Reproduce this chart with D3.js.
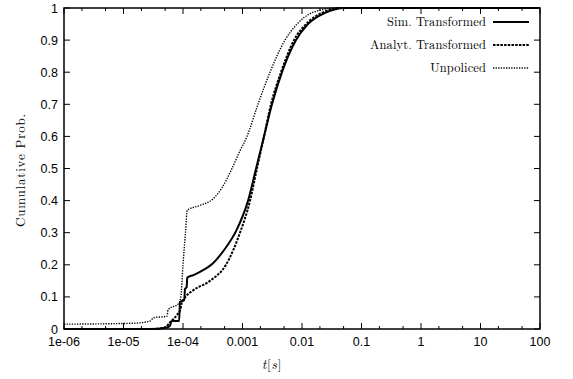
<!DOCTYPE html>
<html>
<head>
<meta charset="utf-8">
<script src="https://cdn.jsdelivr.net/npm/d3@7"></script>
<style>
  html, body { margin: 0; padding: 0; background: #fff; overflow: hidden; }
  svg { display: block; }
  .tick-text { font-family: "Liberation Sans", Arial, sans-serif; font-size: 12.5px; fill: #000; }
  .serif { font-family: "Latin Modern Roman", "CMU Serif", "Liberation Serif", "Times New Roman", serif; fill: #000; }
</style>
</head>
<body>
<svg id="chart" width="573" height="379"></svg>
<script>
// ── CDF data ───────────────────────────────────────────────────────────────
const seriesNames = ["Sim. Transformed", "Analyt. Transformed", "Unpoliced"];

const simT = [1e-6, 2.8e-5, 5.4e-5, 6e-5, 6.5e-5, 8.6e-5, 8.9e-5, 1.05e-4, 1.08e-4, 1.15e-4, 1.18e-4,
  1.5e-4, 1.93e-4, 3.19e-4, 5.08e-4, 7.78e-4, 1.24e-3, 1.69e-3, 2.3e-3, 3.13e-3, 4.61e-3,
  7.93e-3, 1.26e-2, 2.44e-2, 5.28e-2, 100];
const simP = [0, 0, 0.005, 0.01, 0.025, 0.025, 0.085, 0.09, 0.125, 0.13, 0.16,
  0.168, 0.178, 0.205, 0.25, 0.305, 0.4, 0.5, 0.6, 0.7, 0.8,
  0.9, 0.95, 0.985, 1, 1];

const anaT = [1e-6, 3e-5, 5e-5, 6e-5, 8e-5, 9e-5, 9.5e-5, 1.1e-4, 1.47e-4, 2.84e-4, 5.28e-4,
  9.08e-4, 1.34e-3, 1.75e-3, 2.3e-3, 3.01e-3, 4.44e-3, 7.34e-3, 1.17e-2, 2.17e-2, 4.35e-2, 100];
const anaP = [0, 0, 0.005, 0.02, 0.045, 0.06, 0.08, 0.1, 0.12, 0.15, 0.2,
  0.3, 0.4, 0.5, 0.6, 0.7, 0.8, 0.9, 0.95, 0.985, 1, 1];

const unpT = [1e-6, 1.5e-5, 2.8e-5, 3.2e-5, 5.4e-5, 5.6e-5, 8.5e-5, 9.2e-5, 1e-4, 1.1e-4, 1.18e-4,
  1.93e-4, 3.19e-4, 4.52e-4, 6.66e-4, 9.08e-4, 1.19e-3, 1.82e-3, 2.9e-3, 5.18e-3, 8.24e-3,
  1.47e-2, 3.6e-2, 100];
const unpP = [0.015, 0.018, 0.025, 0.035, 0.04, 0.06, 0.08, 0.1, 0.2, 0.3, 0.37,
  0.385, 0.405, 0.44, 0.5, 0.555, 0.6, 0.7, 0.8, 0.9, 0.95,
  0.985, 1, 1];

const xTickVals = [1e-6, 1e-5, 1e-4, 1e-3, 1e-2, 1e-1, 1, 10, 100];
const xTickLabels = ["1e-06", "1e-05", "1e-04", "0.001", "0.01", "0.1", "1", "10", "100"];
const yTickVals = [0, 0.1, 0.2, 0.3, 0.4, 0.5, 0.6, 0.7, 0.8, 0.9, 1];
const yTickLabels = ["0", "0.1", "0.2", "0.3", "0.4", "0.5", "0.6", "0.7", "0.8", "0.9", "1"];

// ── layout ─────────────────────────────────────────────────────────────────
const svg = d3.select("#chart");
const margin = { top: 8, right: 33, bottom: 50, left: 64 };
const innerWidth = 573 - margin.left - margin.right;
const innerHeight = 379 - margin.top - margin.bottom;

const xScale = d3.scaleLog().domain([1e-6, 100]).range([0, innerWidth]);
const yScale = d3.scaleLinear().domain([0, 1]).range([innerHeight, 0]);

const group = svg.append("g").attr("transform", `translate(${margin.left},${margin.top})`);

// minor ticks at 2 and 5 of each decade
const minorX = [];
xTickVals.slice(0, -1).forEach((v) => { minorX.push(v * 2, v * 5); });

const tickGroup = group.append("g").attr("stroke", "#000").attr("stroke-width", 1);
xTickVals.forEach((v) => {
  const x = xScale(v);
  tickGroup.append("line").attr("x1", x).attr("x2", x).attr("y1", innerHeight).attr("y2", innerHeight - 6);
  tickGroup.append("line").attr("x1", x).attr("x2", x).attr("y1", 0).attr("y2", 6);
});
minorX.forEach((v) => {
  const x = xScale(v);
  tickGroup.append("line").attr("x1", x).attr("x2", x).attr("y1", innerHeight).attr("y2", innerHeight - 3);
  tickGroup.append("line").attr("x1", x).attr("x2", x).attr("y1", 0).attr("y2", 3);
});
yTickVals.forEach((v) => {
  const y = yScale(v);
  tickGroup.append("line").attr("x1", 0).attr("x2", 6).attr("y1", y).attr("y2", y);
  tickGroup.append("line").attr("x1", innerWidth).attr("x2", innerWidth - 6).attr("y1", y).attr("y2", y);
});

// tick labels
group.append("g").selectAll("text").data(xTickVals).join("text")
  .attr("class", "tick-text")
  .attr("x", (d) => xScale(d))
  .attr("y", innerHeight + 17)
  .attr("text-anchor", "middle")
  .text((d, i) => xTickLabels[i]);
group.append("g").selectAll("text").data(yTickVals).join("text")
  .attr("class", "tick-text")
  .attr("x", -6)
  .attr("y", (d) => yScale(d) + 4.5)
  .attr("text-anchor", "end")
  .text((d, i) => yTickLabels[i]);

// axis labels
svg.append("text")
  .attr("class", "serif")
  .attr("font-size", 13)
  .attr("letter-spacing", 0.8)
  .attr("transform", "translate(25,170) rotate(-90)")
  .attr("text-anchor", "middle")
  .text("Cumulative Prob.");
const xl = svg.append("text")
  .attr("class", "serif")
  .attr("font-size", 13)
  .attr("letter-spacing", 0.8)
  .attr("x", 272)
  .attr("y", 369)
  .attr("text-anchor", "middle");
xl.append("tspan").attr("font-style", "italic").text("t");
xl.append("tspan").text("[");
xl.append("tspan").attr("font-style", "italic").text("s");
xl.append("tspan").text("]");

// ── series ─────────────────────────────────────────────────────────────────
const series = [
  { name: seriesNames[0], t: simT, p: simP, width: 2, dash: null },
  { name: seriesNames[1], t: anaT, p: anaP, width: 2, dash: "2.5 1.2" },
  { name: seriesNames[2], t: unpT, p: unpP, width: 1.4, dash: "1.3 1.3" },
];

const lineGen = d3.line().x((d) => xScale(d[0])).y((d) => yScale(d[1])).curve(d3.curveMonotoneX);

const linesGroup = group.append("g");
series.slice().reverse().forEach((s) => {
  linesGroup.append("path")
    .attr("d", lineGen(s.t.map((t, i) => [t, s.p[i]])))
    .attr("fill", "none")
    .attr("stroke", "#000")
    .attr("stroke-width", s.width)
    .attr("stroke-dasharray", s.dash);
});

// legend
series.forEach((s, i) => {
  const y = 22 + i * 23 - margin.top;
  group.append("text")
    .attr("class", "serif")
    .attr("font-size", 12.5)
    .attr("letter-spacing", 0.1)
    .attr("x", 486 - margin.left)
    .attr("y", y + 4)
    .attr("text-anchor", "end")
    .text(s.name);
  group.append("line")
    .attr("x1", 493 - margin.left)
    .attr("x2", 529 - margin.left)
    .attr("y1", y)
    .attr("y2", y)
    .attr("stroke", "#000")
    .attr("stroke-width", s.width)
    .attr("stroke-dasharray", s.dash);
});

// frame
group.append("rect")
  .attr("width", innerWidth)
  .attr("height", innerHeight)
  .attr("fill", "none")
  .attr("stroke", "#000")
  .attr("stroke-width", 1.5);
</script>
</body>
</html>
